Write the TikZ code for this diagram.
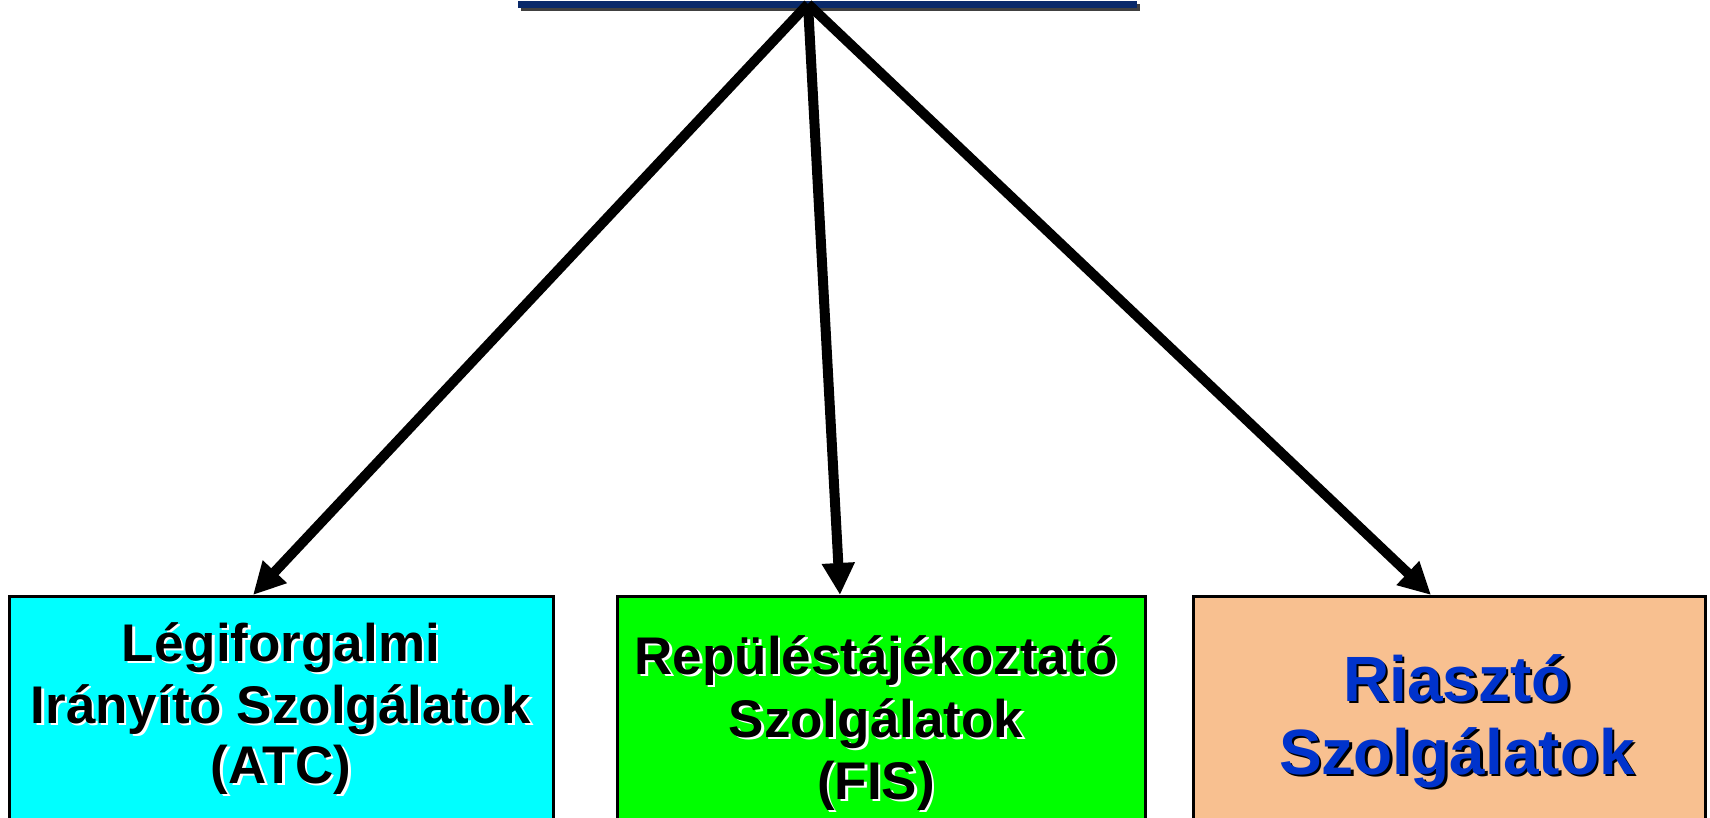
\documentclass[tikz,border=0pt]{standalone}
\usepackage{fontspec}
\setmainfont{Liberation Sans}
\usetikzlibrary{arrows.meta,calc}
\definecolor{navy}{HTML}{0A2A6A}
\definecolor{atccol}{HTML}{00FFFF}
\definecolor{fiscol}{HTML}{00FF00}
\definecolor{alcol}{HTML}{F8C090}
\definecolor{bluetxt}{HTML}{0033CC}
\newcommand\shtext[6]{%
  \node[lbl,text=#4,font=#6] (#1s) at ($(#2)+(2.5,2.5)$) {#5};
  \node[lbl,text=#3,font=#6] (#1) at (#2) {#5};}
\begin{document}
\begin{tikzpicture}[x=1pt,y=-1pt,
  lbl/.style={anchor=base,inner sep=0pt,outer sep=0pt},
  boxnode/.style={draw=black,line width=3pt,anchor=north west,inner sep=0pt,outer sep=0pt},
  conn/.style={line width=10pt,-{Triangle[length=32pt,width=31pt]}}]
\useasboundingbox (0,0) rectangle (1710,818);
\clip (0,0) rectangle (1710,818);
\fill[white] (0,0) rectangle (1710,818);
% title underline
\fill[black!75] (521,4) rectangle (1140,11);
\fill[navy] (518,1) rectangle (1137,8);
\coordinate (apex) at (808,4);
% boxes
\node[boxnode,fill=atccol,minimum width=544pt,minimum height=260pt] (atc) at (9,596) {};
\node[boxnode,fill=fiscol,minimum width=528pt,minimum height=260pt] (fis) at (617,596) {};
\node[boxnode,fill=alcol,minimum width=512pt,minimum height=260pt] (al) at (1193,596) {};
% targets
\coordinate (t1) at ($(atc.north west)+(244,-1)$);
\coordinate (t2) at ($(fis.north west)+(223,-1)$);
\coordinate (t3) at ($(al.north west)+(238,-1)$);
\draw[conn] (apex) -- (t1);
\draw[conn] (apex) -- (t2);
\draw[conn] (apex) -- (t3);
% texts
\shtext{a1}{281,661}{black}{white}{Légiforgalmi}{\fontsize{53}{62}\selectfont\bfseries}
\shtext{a2}{281,723}{black}{white}{Irányító Szolgálatok}{\fontsize{53}{62}\selectfont\bfseries}
\shtext{a3}{281,783}{black}{white}{(ATC)}{\fontsize{53}{62}\selectfont\bfseries}
\shtext{f1}{876,674}{black}{white}{Repüléstájékoztató}{\fontsize{53}{62}\selectfont\bfseries}
\shtext{f2}{876,737}{black}{white}{Szolgálatok}{\fontsize{53}{62}\selectfont\bfseries}
\shtext{f3}{876,799}{black}{white}{(FIS)}{\fontsize{53}{62}\selectfont\bfseries}
\shtext{r1}{1457,701}{bluetxt}{black}{Riasztó}{\fontsize{64}{75}\selectfont\bfseries}
\shtext{r2}{1457,774}{bluetxt}{black}{Szolgálatok}{\fontsize{64}{75}\selectfont\bfseries}
\end{tikzpicture}
\end{document}
